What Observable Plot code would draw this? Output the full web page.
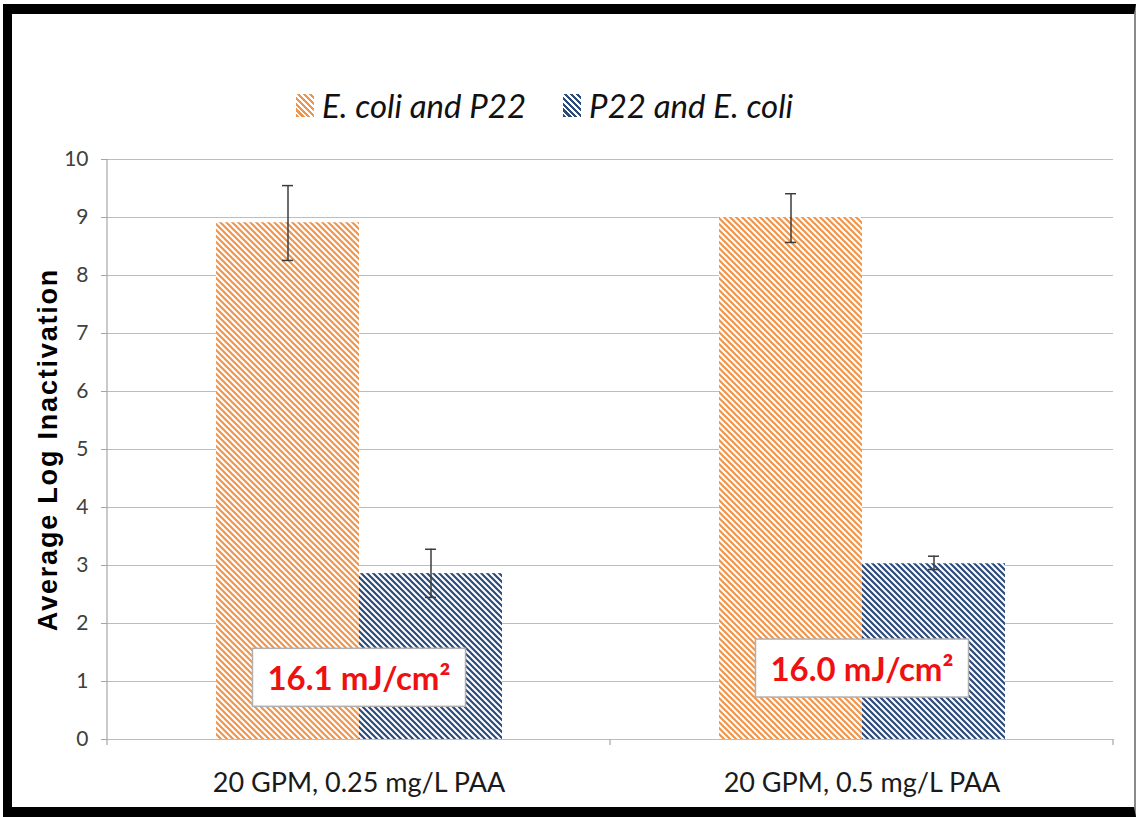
<!DOCTYPE html>
<html><head><meta charset="utf-8">
<script src="https://cdn.jsdelivr.net/npm/d3@7"></script>
<script src="https://cdn.jsdelivr.net/npm/@observablehq/plot@0.6"></script>
<style>
body{margin:0;background:#fff;}
#page{position:relative;width:1138px;height:817px;overflow:hidden;font-family:Lato,"Open Sans",sans-serif;background:#fff;}
#frame{position:absolute;left:3px;top:4px;right:2px;bottom:0;border-top:10px solid #000;border-left:9px solid #000;border-bottom:10px solid #000;border-right:2px solid #8a8a8a;box-sizing:border-box;pointer-events:none;}
#legend{position:absolute;left:296px;top:85px;display:flex;align-items:center;font-style:italic;font-size:33px;color:#111;white-space:nowrap;}
.sw{display:inline-block;width:18px;height:23px;margin-right:8px;}
.item{display:flex;align-items:center;margin-right:37px;}
#chart{position:absolute;left:0;top:140px;}
</style>
</head><body>
<div id="page">
  <div id="legend"></div>
  <div id="chart"></div>
  <div id="frame"></div>
</div>
<script>
const categories = ["20 GPM, 0.25 mg/L PAA", "20 GPM, 0.5 mg/L PAA"];
const series = ["E. coli and P22", "P22 and E. coli"];
const meanEcoliP22 = [8.91, 9.00];
const lowEcoliP22 = [8.26, 8.57];
const highEcoliP22 = [9.55, 9.41];
const meanP22Ecoli = [2.86, 3.03];
const lowP22Ecoli = [2.45, 2.93];
const highP22Ecoli = [3.28, 3.16];
const doseLabels = ["16.1 mJ/cm²", "16.0 mJ/cm²"];
const doseLabelY = [1.03, 1.19];
const yTicks = [0, 1, 2, 3, 4, 5, 6, 7, 8, 9, 10];
const yTitle = "Average Log Inactivation";
const seriesColors = ["#f0954c", "#2b4b7b"];
const patternIds = ["hatchOrange", "hatchBlue"];

const rows = [];
categories.forEach((c, i) => {
  rows.push({category: c, series: series[0], value: meanEcoliP22[i], lo: lowEcoliP22[i], hi: highEcoliP22[i]});
  rows.push({category: c, series: series[1], value: meanP22Ecoli[i], lo: lowP22Ecoli[i], hi: highP22Ecoli[i]});
});
const doseRows = categories.map((c, i) => ({category: c, y: doseLabelY[i], label: doseLabels[i]}));

// legend
const legend = document.getElementById("legend");
series.forEach((s, i) => {
  const item = document.createElement("span");
  item.className = "item";
  const sw = document.createElement("span");
  sw.className = "sw";
  sw.style.background = `repeating-linear-gradient(45deg, ${seriesColors[i]} 0 2.2px, #fff 2.2px 4.2px)`;
  const t = document.createElement("span");
  t.textContent = s;
  item.appendChild(sw); item.appendChild(t);
  legend.appendChild(item);
});

const font = "Lato, 'Open Sans', sans-serif";
const chart = Plot.plot({
  width: 1138,
  height: 660,
  marginLeft: 107,
  marginRight: 25,
  marginTop: 19,
  marginBottom: 61,
  style: {fontFamily: font, background: "transparent", overflow: "visible"},
  fx: {domain: categories, padding: 0, label: null},
  x: {domain: series, paddingInner: 0, paddingOuter: 0.747, axis: null},
  y: {domain: [0, 10], label: null},
  marks: [
    Plot.ruleY(yTicks, {stroke: "#bdbdbd", strokeWidth: 1.2}),
    Plot.barY(rows.filter(d => d.series === series[0]), {fx: "category", x: "series", y: "value", fill: `url(#${patternIds[0]})`}),
    Plot.barY(rows.filter(d => d.series === series[1]), {fx: "category", x: "series", y: "value", fill: `url(#${patternIds[1]})`}),
    Plot.ruleX(rows, {fx: "category", x: "series", y1: "lo", y2: "hi", stroke: "#3c3c3c", strokeWidth: 1.5}),
    Plot.tickY(rows, {fx: "category", x: "series", y: "lo", stroke: "#3c3c3c", strokeWidth: 1.5, inset: 66}),
    Plot.tickY(rows, {fx: "category", x: "series", y: "hi", stroke: "#3c3c3c", strokeWidth: 1.5, inset: 66}),
    Plot.text(doseRows, {fx: "category", y: "y", text: "label", fill: "#ee1111", fontSize: 33, fontWeight: "bold", fontFamily: font}),
    Plot.axisY({ticks: yTicks, tickSize: 6, tickPadding: 13, fontSize: 21, stroke: "#a6a6a6", fill: "#404040", label: null}),
    Plot.axisY({ticks: [], tickSize: 0, label: yTitle, labelAnchor: "center", labelOffset: 70, labelArrow: "none", fontSize: 27, fontWeight: "bold", fill: "#000", fontFamily: "'Liberation Sans', Arial, sans-serif"}),
    Plot.axisFx({anchor: "bottom", tickSize: 0, tickPadding: 33, fontSize: 27, fill: "#1a1a1a", label: null})
  ]
});
document.getElementById("chart").appendChild(chart);

const svg = d3.select(chart);
// letter spacing for the y title
svg.selectAll('g[aria-label="y-axis label"] text').style("letter-spacing", "1.8px");

// hatching patterns
const defs = svg.insert("defs", ":first-child");
patternIds.forEach((id, i) => {
  const p = defs.append("pattern").attr("id", id).attr("patternUnits", "userSpaceOnUse")
    .attr("width", 6).attr("height", 6);
  p.append("rect").attr("width", 6).attr("height", 6).attr("fill", "#fff");
  p.append("path").attr("d", "M-1,-1 L7,7 M-1,5 L1,7 M5,-1 L7,1")
    .attr("stroke", seriesColors[i]).attr("stroke-width", 2.2);
});

// axis lines from the scales
const ys = chart.scale("y");
const fxs = chart.scale("fx");
const [yBottom, yTop] = ys.range;
const x0 = fxs.range[0];
const axisG = svg.append("g").attr("stroke", "#a6a6a6").attr("stroke-width", 1.2);
axisG.append("line").attr("x1", x0).attr("x2", x0).attr("y1", yBottom).attr("y2", yTop);
for (let i = 0; i <= categories.length; i++) {
  const xb = x0 + i * fxs.step;
  axisG.append("line").attr("x1", xb).attr("x2", xb).attr("y1", yBottom).attr("y2", yBottom + 6);
}

// white boxes behind dose labels
svg.selectAll('g[aria-label="text"] text').each(function() {
  const bb = this.getBBox();
  const padX = 15, padY = 9;
  const r = document.createElementNS("http://www.w3.org/2000/svg", "rect");
  r.setAttribute("x", bb.x - padX);
  r.setAttribute("y", bb.y - padY);
  r.setAttribute("width", bb.width + 2 * padX);
  r.setAttribute("height", bb.height + 2 * padY);
  r.setAttribute("fill", "#fff");
  r.setAttribute("stroke", "#b0b0b0");
  r.setAttribute("stroke-width", 1.5);
  const tr = this.getAttribute("transform");
  if (tr) r.setAttribute("transform", tr);
  this.parentNode.insertBefore(r, this);
});
</script>
</body></html>
